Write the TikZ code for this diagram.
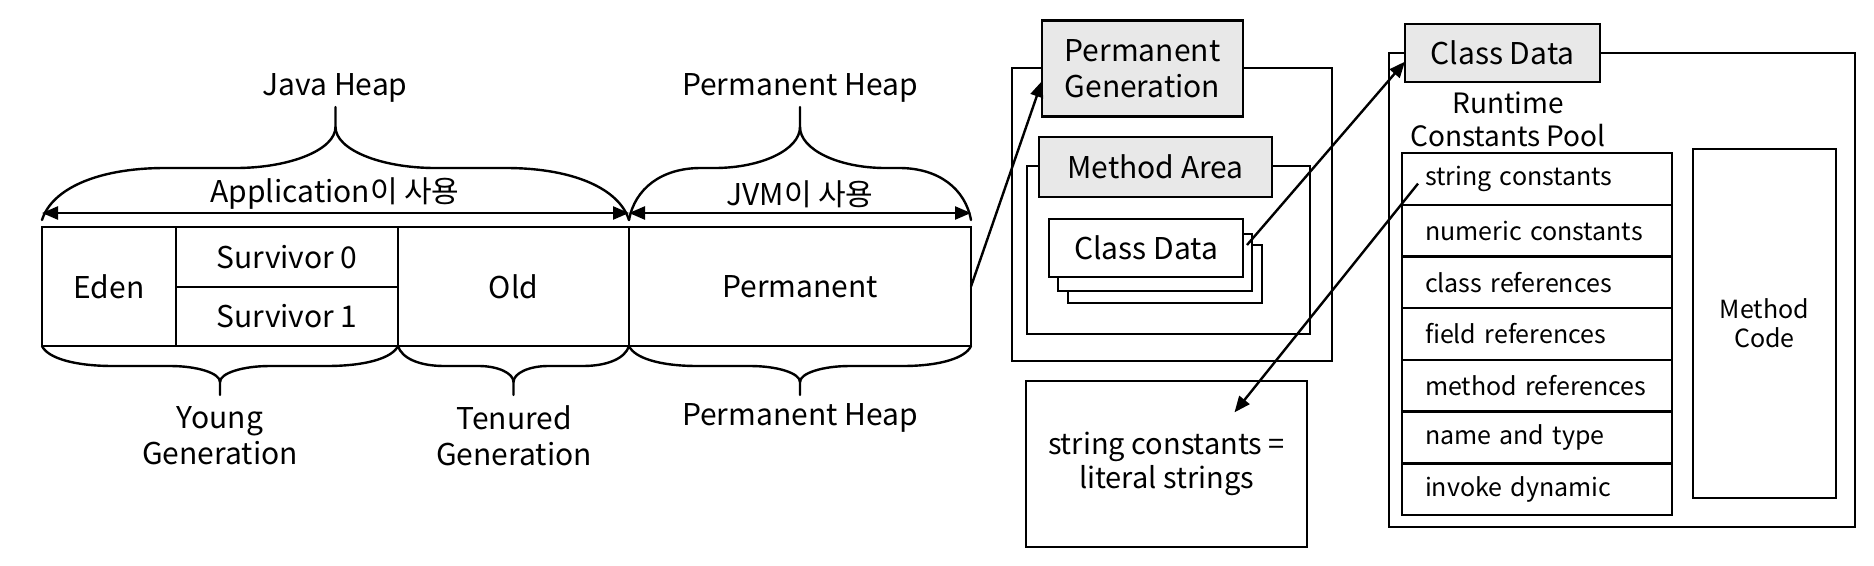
\documentclass[tikz,border=0pt]{standalone}
\usepackage{fontspec}
\setmainfont{Noto Sans CJK KR}
\usetikzlibrary{arrows.meta}
\newcommand\mybrace[9]{%
  \pgfmathsetmacro\bh{(#2-#1)/2}%
  \pgfmathsetmacro\bc{(#1+#2)/2}%
  \pgfmathsetmacro\ba{#7*\bh}%
  \pgfmathsetmacro\bb{min(#8*\bh,#9)}%
  \draw[bracest] (#1,#3) .. controls ({#1+0.08*\ba},{#3+0.6*(#4-#3)}) and ({#1+0.45*\ba},#4) .. ({#1+\ba},#4)
    -- ({\bc-\bb},#4) .. controls ({\bc-0.45*\bb},#4) and (\bc,{#5+0.55*(#4-#5)}) .. (\bc,#5) -- (\bc,#6);
  \draw[bracest] (\bc,#5) .. controls (\bc,{#5+0.55*(#4-#5)}) and ({\bc+0.45*\bb},#4) .. ({\bc+\bb},#4)
    -- ({#2-\ba},#4) .. controls ({#2-0.45*\ba},#4) and ({#2-0.08*\ba},{#3+0.6*(#4-#3)}) .. (#2,#3);
}
\begin{document}
\begin{tikzpicture}[x=1pt,y=-1pt,
  lw/.style={line width=2.4pt},
  cellst/.style={draw, lw, rectangle, inner sep=0pt, outer sep=0pt, font=\fontsize{30}{36}\selectfont, align=center},
  hdrst/.style={cellst, fill=gray!18},
  rowst/.style={draw, lw, rectangle, inner ysep=0pt, inner xsep=23pt, outer sep=0pt, text width=224pt, minimum height=51.73pt, align=left, font=\fontsize{25}{30}\selectfont},
  lbl/.style={inner sep=0pt, font=\fontsize{30}{36}\selectfont, align=center},
  dbl/.style={lw, {Triangle[length=16pt,width=13pt]}-{Triangle[length=16pt,width=13pt]}},
  conn/.style={lw, -{Triangle[length=16pt,width=13pt]}},
  bracest/.style={lw, line cap=round}
]
\useasboundingbox[fill=white] (0,0) rectangle (1874,565);
% heap cells
\node[cellst, minimum width=134pt, minimum height=119pt] (eden) at (109,286.5) {Eden};
\node[cellst, minimum width=222pt, minimum height=60pt] (s0) at (287,257) {Survivor 0};
\node[cellst, minimum width=222pt, minimum height=59pt] (s1) at (287,316.5) {Survivor 1};
\node[cellst, minimum width=231pt, minimum height=119pt] (old) at (513.5,286.5) {Old};
\node[cellst, minimum width=342pt, minimum height=119pt] (perm) at (800,286.5) {Permanent};
% dimension arrows
\coordinate (aL) at (42,213);
\coordinate (aM) at (629,213);
\coordinate (aR) at (971,213);
\draw[dbl] (aL) -- (aM);
\draw[dbl] (aM) -- (aR);
\node[lbl] (app) at (335,194) {Application이 사용};
\node[lbl] (jvm) at (800,194) {JVM이 사용};
% braces
\mybrace{42}{629}{220}{168}{127}{107}{0.42}{0.5}{100}
\mybrace{629}{971}{220}{168}{127}{107}{0.42}{0.5}{100}
\mybrace{42}{398}{346}{366}{382}{395}{0.4}{0.3}{50}
\mybrace{398}{629}{346}{366}{382}{395}{0.4}{0.3}{50}
\mybrace{629}{971}{346}{366}{382}{395}{0.4}{0.3}{50}
\node[lbl] (jh) at (335,88) {Java Heap};
\node[lbl] (ph) at (800,88) {Permanent Heap};
\node[lbl] (yg) at (220,436) {Young\\Generation};
\node[lbl] (tg) at (514,436) {Tenured\\Generation};
\node[lbl] (ph2) at (800,418) {Permanent Heap};
% permanent generation
\node[cellst, minimum width=320pt, minimum height=293pt] (pgbox) at (1172,214.5) {};
\node[hdrst, minimum width=201pt, minimum height=96pt, font=\fontsize{30}{36}\selectfont] (pghdr) at (1142.5,68.6) {Permanent\\Generation};
\node[cellst, minimum width=283pt, minimum height=168pt] (mabox) at (1168.5,250) {};
\node[hdrst, minimum width=233pt, minimum height=59.5pt] (mahdr) at (1155.5,167) {Method Area};
\node[cellst, fill=white, minimum width=194pt, minimum height=58.5pt] (cd3) at (1165,274) {};
\node[cellst, fill=white, minimum width=194pt, minimum height=56.5pt] (cd2) at (1155,262.5) {};
\node[cellst, fill=white, minimum width=194pt, minimum height=58.5pt] (cd1) at (1146,248) {Class Data};
\node[cellst, minimum width=281pt, minimum height=166.5pt, font=\fontsize{29}{34.5}\selectfont] (lit) at (1166.5,464) {string constants =\\literal strings};
% class data
\node[cellst, minimum width=466pt, minimum height=474pt] (cdbox) at (1622,290) {};
\node[hdrst, minimum width=195pt, minimum height=58pt] (cdhdr) at (1502.5,53) {Class Data};
\node[lbl, font=\fontsize{28}{33.5}\selectfont] (rcp) at (1508,119.3) {Runtime\\Constants Pool};
\node[rowst] (r0) at (1537,178.9) {string constants};
\node[rowst] (r1) at (1537,230.6) {numeric constants};
\node[rowst] (r2) at (1537,282.3) {class references};
\node[rowst] (r3) at (1537,334.0) {field references};
\node[rowst] (r4) at (1537,385.8) {method references};
\node[rowst] (r5) at (1537,437.5) {name and type};
\node[rowst] (r6) at (1537,489.2) {invoke dynamic};
\node[cellst, minimum width=143pt, minimum height=349pt, font=\fontsize{25}{29}\selectfont] (mc) at (1764.5,323.5) {Method\\Code};
% connectors
\draw[conn] (perm.east) -- ([yshift=-12.4pt]pghdr.west);
\draw[conn] ([xshift=4pt,yshift=3pt]cd1.east) -- ([yshift=-8.6pt]cdhdr.west);
\coordinate (scstart) at ([xshift=16pt,yshift=-4.7pt]r0.west);
\coordinate (litin) at ([xshift=68pt,yshift=-31.6pt]lit.north);
\draw[conn] (scstart) -- (litin);
\end{tikzpicture}
\end{document}
